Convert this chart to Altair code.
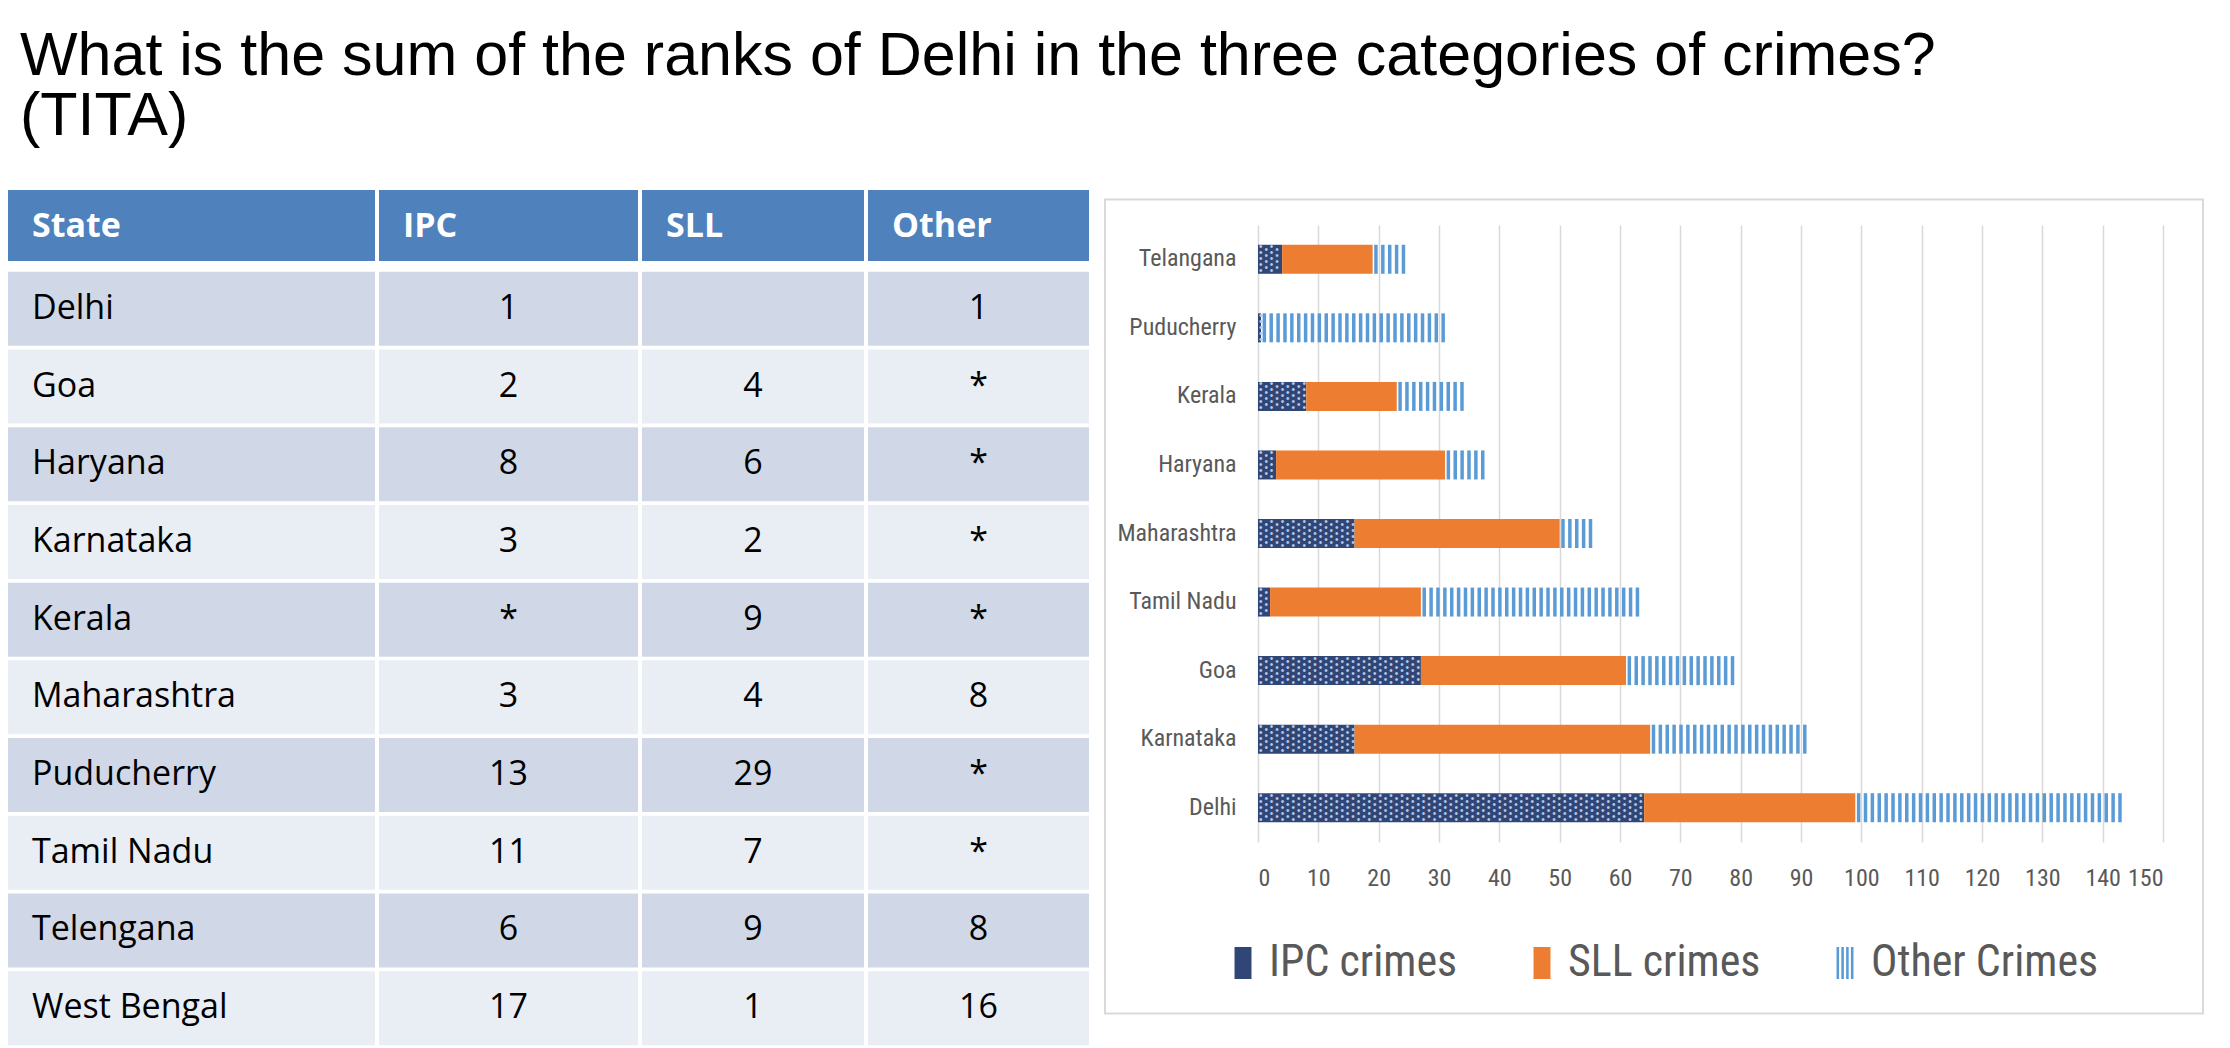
import altair as alt
import pandas as pd

# ---------------- data ----------------
question = ["What is the sum of the ranks of Delhi in the three categories of crimes?", "(TITA)"]

table_header = ["State", "IPC", "SLL", "Other"]
table_states = ["Delhi", "Goa", "Haryana", "Karnataka", "Kerala", "Maharashtra",
                "Puducherry", "Tamil Nadu", "Telengana", "West Bengal"]
ipc_rank = ["1", "2", "8", "3", "*", "3", "13", "11", "6", "17"]
sll_rank = ["", "4", "6", "2", "9", "4", "29", "7", "9", "1"]
other_rank = ["1", "*", "*", "*", "*", "8", "*", "*", "8", "16"]

bar_states = ["Telangana", "Puducherry", "Kerala", "Haryana", "Maharashtra",
              "Tamil Nadu", "Goa", "Karnataka", "Delhi"]
ipc_crimes = [4, 0.5, 8, 3, 16, 2, 27, 16, 64]
sll_crimes = [15, 0, 15, 28, 34, 25, 34, 49, 35]
other_crimes = [6, 30.5, 11, 6.5, 6, 36.5, 18.5, 26, 44]
series_names = ["IPC crimes", "SLL crimes", "Other Crimes"]
x_ticks = list(range(0, 151, 10))

# ---------------- styles ----------------
TF = "Open Sans"
NF = "Liberation Sans Narrow, Roboto Condensed, DejaVu Sans Condensed, Liberation Sans"
HEADER_BLUE = "#4F81BD"
ROW_COLORS = ["#D0D8E8", "#E9EDF4"]
IPC_COLOR = "#2F4676"
IPC_DOT = "#B9C8E6"
SLL_COLOR = "#ED7D31"
OTHER_COLOR = "#5B9BD5"
GRID = "#D9D9D9"
LABEL = "#595959"

# ---------------- table ----------------
table_df = pd.DataFrame({"State": table_states, "IPC": ipc_rank,
                         "SLL": sll_rank, "Other": other_rank})
col_widths = [367, 259, 222, 221]
HEADER_H = 71
BODY_H = 777


def header_cell(name, w):
    df = pd.DataFrame({"h": [name]})
    base = alt.Chart(df).properties(width=w, height=HEADER_H)
    rect = base.mark_rect(color=HEADER_BLUE).encode(
        x=alt.value(0), x2=alt.value(w), y=alt.value(0), y2=alt.value(HEADER_H))
    text = base.mark_text(align="left", baseline="middle", font=TF, fontSize=34,
                          fontWeight="bold", color="white").encode(
        x=alt.value(24), y=alt.value(HEADER_H / 2 + 1), text="h:N")
    return alt.layer(rect, text)


def body_col(field, w, left):
    base = alt.Chart(table_df).properties(width=w, height=BODY_H)
    y = alt.Y("State:N", sort=table_states, axis=None,
              scale=alt.Scale(paddingInner=0.048, paddingOuter=0.024))
    rect = base.mark_rect().encode(
        y=y, x=alt.value(0), x2=alt.value(w),
        fill=alt.Fill("State:N", legend=None,
                      scale=alt.Scale(domain=table_states, range=ROW_COLORS * 5)))
    text = base.mark_text(align="left" if left else "center", baseline="middle",
                          font=TF, fontSize=34, color="black").encode(
        y=y, x=alt.value(24 if left else w / 2), text=f"{field}:N")
    return alt.layer(rect, text)


header_row = alt.hconcat(*[header_cell(n, w) for n, w in zip(table_header, col_widths)],
                         spacing=4)
body_row = alt.hconcat(*[body_col(n, w, i == 0) for i, (n, w) in
                         enumerate(zip(table_header, col_widths))], spacing=4)
table = alt.vconcat(header_row, body_row, spacing=9)

# ---------------- bar chart ----------------
W, H = 905, 617
bar_df = pd.DataFrame({"state": bar_states, "ipc": ipc_crimes,
                       "sll": sll_crimes, "other": other_crimes})

rows = []
for s, a, b, c in zip(bar_states, ipc_crimes, sll_crimes, other_crimes):
    rows.append({"state": s, "series": series_names[0], "x0": 0, "x1": a})
    rows.append({"state": s, "series": series_names[1], "x0": a, "x1": a + b})
    rows.append({"state": s, "series": series_names[2], "x0": a + b, "x1": a + b + c})
long_df = pd.DataFrame(rows)

y_enc = alt.Y("state:N", sort=bar_states, title=None,
              scale=alt.Scale(paddingInner=0.577, paddingOuter=0.2885),
              axis=alt.Axis(domain=False, ticks=False, grid=False, labelFont=NF,
                            labelFontSize=24, labelColor=LABEL, labelPadding=22))
x_scale = alt.Scale(domain=[0, 150], nice=False, zero=True)
x_axis = alt.Axis(values=x_ticks, grid=True, gridColor=GRID, gridWidth=1.5,
                  domain=False, ticks=False, labelFont=NF, labelFontSize=24,
                  labelColor=LABEL, labelPadding=24, title=None)
color_scale = alt.Scale(domain=series_names, range=[IPC_COLOR, SLL_COLOR, OTHER_COLOR])

rect_path = "M-0.53,-1H0.53V1H-0.53Z"
stripe_path = ("M-0.53,-1h0.16v2h-0.16z M-0.23,-1h0.16v2h-0.16z "
               "M0.07,-1h0.16v2h-0.16z M0.37,-1h0.16v2h-0.16z")

legend = alt.Legend(title=None, orient="none", legendX=-37, legendY=716,
                    direction="horizontal", symbolSize=1024, symbolOpacity=1,
                    symbolStrokeWidth=0, labelFont=NF, labelFontSize=44,
                    labelColor=LABEL, labelOffset=4, columnPadding=62,
                    labelLimit=400)

panel = alt.Chart(pd.DataFrame({"p": [0]})).mark_rect(
    fill="white", fillOpacity=0, stroke=GRID, strokeWidth=2).encode(
    x=alt.value(-153), x2=alt.value(W + 40), y=alt.value(-25.5), y2=alt.value(H + 171.5))

bars = alt.Chart(long_df).transform_filter(
    alt.datum.series != series_names[2]).mark_bar().encode(
    x=alt.X("x0:Q", scale=x_scale, axis=x_axis),
    x2="x1:Q",
    y=y_enc,
    color=alt.Color("series:N", scale=color_scale, legend=None),
)


# dotted texture on the IPC segments (two staggered columns of dots)
def dots(start, text, dy):
    return alt.Chart(bar_df).transform_calculate(
        d=f"sequence({start}, datum.ipc, 1.8)"
    ).transform_flatten(["d"]).mark_text(
        font="Liberation Sans", fontSize=10, lineHeight=6, lineBreak="\n",
        baseline="middle", dy=dy, color=IPC_DOT).encode(
        x=alt.X("d:Q", scale=x_scale, axis=x_axis),
        y=y_enc,
        text=alt.value(text),
    )


dots_a = dots(0.45, "\u2022\n\u2022\n\u2022\n\u2022\n\u2022", -12)
dots_b = dots(1.35, "\u2022\n\u2022\n\u2022\n\u2022", -9)

stripes = alt.Chart(bar_df).transform_calculate(
    stripe="sequence(datum.ipc + datum.sll + 0.55, datum.ipc + datum.sll + datum.other + 0.2, 1.14)",
    series="'Other Crimes'",
).transform_flatten(["stripe"]).mark_tick(thickness=3.5, size=29, opacity=1).encode(
    x=alt.X("stripe:Q", scale=x_scale, axis=x_axis),
    y=y_enc,
    color=alt.Color("series:N", scale=color_scale, legend=None),
)

legend_pts = alt.Chart(long_df).mark_point(filled=True, opacity=0).encode(
    x=alt.X("x1:Q", scale=x_scale, axis=x_axis),
    y=y_enc,
    color=alt.Color("series:N", scale=color_scale, legend=legend),
    shape=alt.Shape("series:N", scale=alt.Scale(domain=series_names,
                                                range=[rect_path, rect_path, stripe_path]),
                    legend=legend),
)

bar_chart = alt.layer(panel, bars, dots_a, dots_b, stripes, legend_pts).resolve_legend(
    color="independent", shape="independent").properties(width=W, height=H)

# small empty strip that lowers the chart panel a little below the table's top edge
top_gap = alt.Chart(pd.DataFrame({"p": [0]})).mark_rect(opacity=0).encode(
    x=alt.value(0), x2=alt.value(1), y=alt.value(0), y2=alt.value(1)
).properties(width=1, height=1)
right_side = alt.vconcat(top_gap, bar_chart, spacing=7)

# ---------------- assemble ----------------
chart = alt.hconcat(table, right_side, spacing=15).properties(
    padding={"left": 0, "top": 18, "right": 0, "bottom": 0},
    title=alt.TitleParams(text=question, anchor="start", fontSize=61,
                          font="Liberation Sans", fontWeight="normal", color="black",
                          dx=12, offset=42, lineHeight=60, frame="group"),
).configure_view(stroke=None)

chart.save("out.html", embed_options={"renderer": "svg", "actions": False})
